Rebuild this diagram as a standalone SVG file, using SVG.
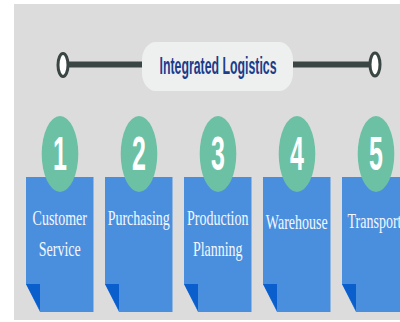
<svg xmlns="http://www.w3.org/2000/svg" width="400" height="322" viewBox="0 0 400 322">
<style>
.card{fill:#4a8fde}
.fold{fill:#0b5fcd}
.num{fill:#6cc1a4}
.numt{font-family:"Liberation Sans",Arial,sans-serif;font-weight:bold;font-size:25px;fill:#fff;text-anchor:middle}
.lbl{font-family:"Liberation Serif","Times New Roman",serif;font-size:14px;fill:#f4f7ff;text-anchor:middle}
.ring{fill:#fff;stroke:#3a4644;stroke-width:3}
.bar{stroke:#3a4644;stroke-width:6;fill:none}
</style>
<rect x="0" y="0" width="400" height="322" fill="#fff"/>
<rect x="14" y="4" width="386" height="316" fill="#dcdcdc"/>
<g id="connectors">
<line class="bar" x1="68" y1="64.5" x2="143" y2="64.5"/>
<line class="bar" x1="292" y1="64.5" x2="370" y2="64.5"/>
<ellipse class="ring" cx="63" cy="65" rx="5" ry="11.5"/>
<ellipse class="ring" cx="375" cy="64.5" rx="5" ry="11.5"/>
</g>
<g id="title">
<rect x="142" y="42" width="151" height="49" rx="14" ry="18" fill="#eef0f0"/>
<text transform="translate(218,73.5) scale(1,1.5)" font-family="'Liberation Sans',Arial,sans-serif" font-weight="bold" font-size="16" fill="#1d3c8a" text-anchor="middle" textLength="117" lengthAdjust="spacingAndGlyphs">Integrated Logistics</text>
</g>
<g id="step1">
<path class="card" d="M26,177H93.5V312H40L26,284Z"/>
<path class="fold" d="M26,284H40V311Z"/>
<ellipse class="num" cx="60" cy="154" rx="18.3" ry="38"/>
<text class="numt" transform="translate(60,170) scale(1,1.9)">1</text>
<text class="lbl" transform="translate(59.75,225) scale(1,1.5)">Customer</text>
<text class="lbl" transform="translate(59.75,256) scale(1,1.5)">Service</text>
</g>
<g id="step2">
<path class="card" d="M105,177H172.5V312H119L105,284Z"/>
<path class="fold" d="M105,284H119V311Z"/>
<ellipse class="num" cx="139" cy="154" rx="18.3" ry="38"/>
<text class="numt" transform="translate(139,170) scale(1,1.9)">2</text>
<text class="lbl" transform="translate(138.75,225) scale(1,1.5)">Purchasing</text>
</g>
<g id="step3">
<path class="card" d="M184,177H251.5V312H198L184,284Z"/>
<path class="fold" d="M184,284H198V311Z"/>
<ellipse class="num" cx="218" cy="154" rx="18.3" ry="38"/>
<text class="numt" transform="translate(218,170) scale(1,1.9)">3</text>
<text class="lbl" transform="translate(217.75,225) scale(1,1.5)">Production</text>
<text class="lbl" transform="translate(217.75,256) scale(1,1.5)">Planning</text>
</g>
<g id="step4">
<path class="card" d="M263,177H330.5V312H277L263,284Z"/>
<path class="fold" d="M263,284H277V311Z"/>
<ellipse class="num" cx="297" cy="154" rx="18.3" ry="38"/>
<text class="numt" transform="translate(297,170) scale(1,1.9)">4</text>
<text class="lbl" transform="translate(296.75,229) scale(1,1.5)">Warehouse</text>
</g>
<g id="step5">
<path class="card" d="M342,177H409.5V312H356L342,284Z"/>
<path class="fold" d="M342,284H356V311Z"/>
<ellipse class="num" cx="376" cy="154" rx="18.3" ry="38"/>
<text class="numt" transform="translate(376,170) scale(1,1.9)">5</text>
<text class="lbl" transform="translate(374.5,228) scale(1,1.5)">Transport</text>
</g>
</svg>
